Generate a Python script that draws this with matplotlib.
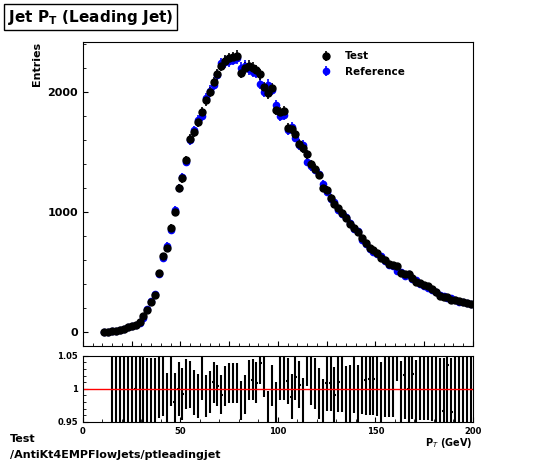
import numpy as np
import matplotlib.pyplot as plt

# bin centres (GeV) and counts
pt = np.arange(11, 200, 2)
test = [0, 0, 5, 10, 15, 25, 40, 50, 60, 80, 130, 180, 250, 310, 490, 630, 700, 870, 1000, 1200,
        1280, 1430, 1610, 1670, 1750, 1830, 1930, 2000, 2080, 2150, 2220, 2260, 2280, 2290, 2300, 2160,
        2200, 2220, 2200, 2180, 2150, 2040, 1990, 2030, 1850, 1830, 1840, 1700, 1690, 1650, 1570, 1530,
        1480, 1400, 1360, 1310, 1200, 1180, 1120, 1070, 1030, 990, 950, 900, 870, 830, 780, 740,
        700, 680, 660, 620, 600, 570, 560, 550, 490, 480, 480, 450, 420, 410, 390, 380, 360, 330,
        300, 290, 290, 270, 270, 260, 250, 240, 230]
ref = [0, 0, 5, 10, 15, 25, 40, 50, 60, 75, 120, 190, 260, 320, 480, 620, 720, 850, 1020, 1200,
       1290, 1420, 1600, 1680, 1770, 1800, 1950, 2010, 2060, 2140, 2240, 2250, 2260, 2270, 2280, 2200,
       2220, 2190, 2170, 2160, 2070, 2000, 2060, 2020, 1890, 1800, 1810, 1680, 1710, 1620, 1560, 1560,
       1420, 1380, 1350, 1320, 1230, 1170, 1110, 1080, 1020, 980, 960, 910, 860, 840, 770, 730,
       690, 670, 650, 630, 590, 560, 550, 510, 500, 470, 480, 440, 430, 400, 380, 370, 350, 330,
       310, 300, 280, 280, 270, 250, 250, 240, 230]
test = np.array(test, float)
ref = np.array(ref, float)

fig = plt.figure(figsize=(5.46, 4.62), dpi=100)
ax = fig.add_axes([0.152, 0.251, 0.714, 0.658])
rx = fig.add_axes([0.152, 0.087, 0.714, 0.143])

ax.errorbar(pt, ref, yerr=np.sqrt(ref), fmt='o-', ls='none', color='blue', ms=4.5, lw=1.2, capsize=0,
            label='Reference')
ax.errorbar(pt, test, yerr=np.sqrt(test), fmt='o', ls='none', color='black', ms=5, lw=1.2, capsize=0,
            label='Test')
ax.set_xlim(0, 200)
ax.set_ylim(-117, 2417)
ax.set_yticks([0, 1000, 2000])
ax.set_xticklabels([])
ax.minorticks_on()
ax.tick_params(which='both', direction='in', top=False, right=False)
ax.tick_params(axis='y', labelsize=8)
ax.set_ylabel('Entries', fontsize=8, fontweight='bold', loc='top')
h, l = ax.get_legend_handles_labels()
ax.legend(h[::-1], l[::-1], loc='upper right', bbox_to_anchor=(0.85, 1.0), frameon=False,
          prop={'weight': 'bold', 'size': 7.5})
for t in ax.get_yticklabels():
    t.set_fontweight('bold')

mask = ref > 0
ratio = test[mask] / ref[mask]
rerr = ratio * np.sqrt(1 / np.maximum(test[mask], 1) + 1 / ref[mask])
rx.errorbar(pt[mask], ratio, yerr=rerr, xerr=0.6, fmt='none', color='black', lw=1.5, capsize=0)
rx.axhline(1, color='red', lw=1)
rx.set_xlim(0, 200)
rx.set_ylim(0.95, 1.05)
rx.set_yticks([0.95, 1, 1.05])
rx.set_yticklabels(['0.95', '1', '1.05'])
rx.set_xticks([0, 50, 100, 150, 200])
rx.minorticks_on()
rx.tick_params(which='both', direction='in', labelsize=6)
for t in rx.get_xticklabels() + rx.get_yticklabels():
    t.set_fontweight('bold')
rx.set_xlabel(r'P$_T$ (GeV)', fontsize=7, fontweight='bold', loc='right', labelpad=0)

fig.text(0.015, 0.963, r'Jet P$_\mathregular{T}$ (Leading Jet)', fontsize=11, fontweight='bold',
         va='center', bbox=dict(facecolor='white', edgecolor='black', boxstyle='square,pad=0.25'))
fig.text(0.018, 0.043, 'Test', fontsize=8, fontweight='bold')
fig.text(0.018, 0.008, '/AntiKt4EMPFlowJets/ptleadingjet', fontsize=8, fontweight='bold')

fig.savefig('out.png', dpi=100)
